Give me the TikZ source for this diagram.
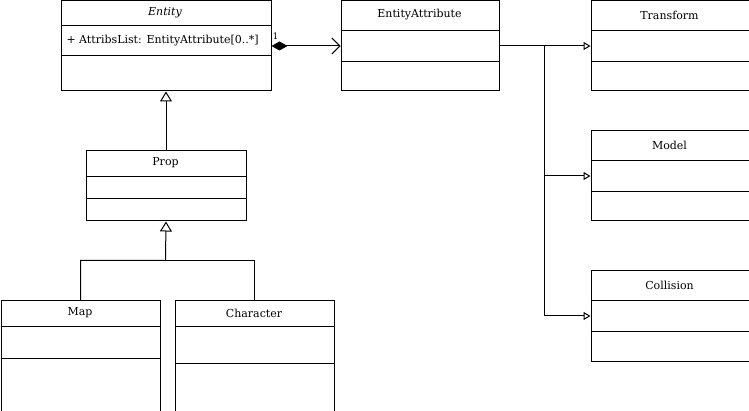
\documentclass[tikz,border=0pt]{standalone}
\usepackage{fontspec}
\setmainfont{DejaVu Serif}
\usetikzlibrary{arrows.meta,calc}
\begin{document}
\begin{tikzpicture}[x=1pt,y=-1pt,line width=1pt,
  cls/.style={draw,rectangle,inner sep=0pt,anchor=north west},
  row/.style={rectangle,inner sep=0pt,anchor=north west},
  title/.style={font=\fontsize{11}{13}\selectfont,inner sep=0pt},
  txt/.style={font=\fontsize{11}{13}\selectfont,inner sep=0pt,anchor=west},
  gen/.style={-{Triangle[open,fill=white,length=10pt,width=12pt]}},
  gens/.style={-{Triangle[open,fill=white,length=7pt,width=8pt]}},
  comp/.style={{Diamond[length=16pt,width=9pt]}-{Straight Barb[length=8pt,width=16pt]}}
]
\useasboundingbox (0,0) rectangle (749,411);
% Entity
\node[cls,minimum width=210pt,minimum height=90pt] (entity) at (60.5,0.5) {};
\node[title,font=\fontsize{11}{13}\selectfont\itshape] (entityT) at (165,13) {Entity};
\draw (60.5,26) -- (270.5,26);
\draw (60.5,56) -- (270.5,56);
\node[txt] (entityA) at (66,41) {+ AttribsList: EntityAttribute[0..*]};
% EntityAttribute
\node[cls,minimum width=158pt,minimum height=90pt] (ea) at (340.5,0.5) {};
\node[title] (eaT) at (419.5,15) {EntityAttribute};
\node[row,minimum width=158pt,minimum height=30pt] (eaRow) at (340.5,30.5) {};
\draw (eaRow.north west) -- (eaRow.north east);
\draw (eaRow.south west) -- (eaRow.south east);
% Transform
\node[cls,minimum width=158pt,minimum height=90pt] (tr) at (590.5,0.5) {};
\node[title] (trT) at (669.5,15) {Transform};
\node[row,minimum width=158pt,minimum height=30pt] (trRow) at (590.5,30.5) {};
\draw (trRow.north west) -- (trRow.north east);
\draw (trRow.south west) -- (trRow.south east);
% Model
\node[cls,minimum width=158pt,minimum height=90pt] (mo) at (590.5,130.5) {};
\node[title] (moT) at (669.5,145) {Model};
\node[row,minimum width=158pt,minimum height=30pt] (moRow) at (590.5,160.5) {};
\draw (moRow.north west) -- (moRow.north east);
\draw (moRow.south west) -- (moRow.south east);
% Collision
\node[cls,minimum width=158pt,minimum height=90pt] (co) at (590.5,270.5) {};
\node[title] (coT) at (669.5,285) {Collision};
\node[row,minimum width=158pt,minimum height=30pt] (coRow) at (590.5,300.5) {};
\draw (coRow.north west) -- (coRow.north east);
\draw (coRow.south west) -- (coRow.south east);
% Prop
\node[cls,minimum width=160pt,minimum height=70pt] (prop) at (85.5,150.5) {};
\node[title] (propT) at (165.5,163) {Prop};
\draw (85.5,176.5) -- (245.5,176.5);
\draw (85.5,198.5) -- (245.5,198.5);
% Map
\node[cls,minimum width=159pt,minimum height=110pt] (map) at (0.5,300.5) {};
\node[title] (mapT) at (80,313) {Map};
\draw (0.5,326.5) -- (159.5,326.5);
\draw (0.5,358.5) -- (159.5,358.5);
% Character
\node[cls,minimum width=159pt,minimum height=110pt] (char) at (174.5,300.5) {};
\node[title] (charT) at (254,313) {Character};
\draw (174.5,326.5) -- (333.5,326.5);
\draw (174.5,363.5) -- (333.5,363.5);
% connectors
\draw[comp] (entity.east) -- (eaRow.west);
\node[inner sep=0pt,font=\fontsize{9}{10}\selectfont,anchor=south west] (one) at (272,40) {1};
\draw[gen] (prop.north) -- (entity.south);
\coordinate (j1) at (165.5,260.5);
\draw[gen] (map.north) |- (j1) -- (prop.south);
\draw (char.north) |- (j1);
\coordinate (j2) at (544.5,45.5);
\draw[gens] (ea.east) -- (trRow.west);
\draw[gens] (j2) |- (moRow.west);
\draw[gens] (j2) |- (coRow.west);
\end{tikzpicture}
\end{document}
